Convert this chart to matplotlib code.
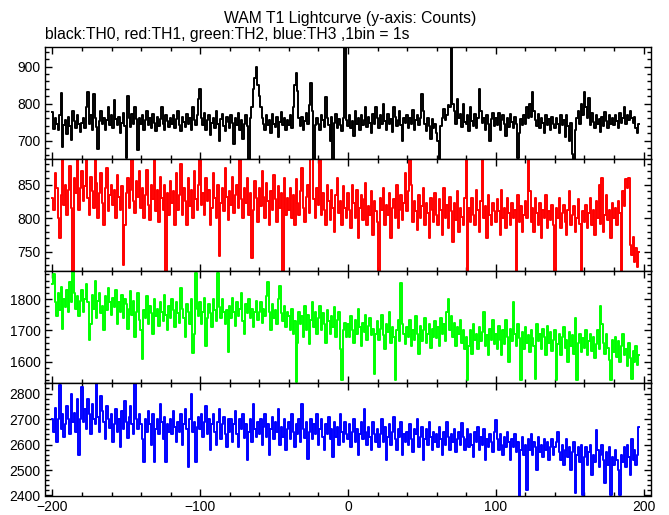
import numpy as np
import matplotlib
matplotlib.use("Agg")
import matplotlib.pyplot as plt
from matplotlib.ticker import MultipleLocator

plt.rcParams["font.family"] = ["Liberation Sans", "DejaVu Sans"]

# tempo (s), 1 bin = 1 s
t_inicio = -200

# TH0 (preto)
th0 = [
    778, 732, 760, 745, 728, 770, 830, 684, 742, 755, 718, 765, 740, 702, 780, 752, 735, 768, 745, 722,
    748, 760, 735, 790, 832, 745, 770, 728, 825, 760, 738, 677, 752, 780, 745, 762, 730, 755, 790, 742,
    770, 735, 810, 758, 742, 765, 720, 748, 775, 740, 653, 820, 760, 738, 772, 745, 790, 758, 676, 762,
    745, 768, 730, 755, 780, 742, 760, 735, 772, 748, 725, 765, 740, 758, 790, 745, 730, 770, 752, 738,
    760, 745, 770, 735, 758, 780, 742, 725, 765, 750, 738, 772, 745, 760, 728, 790, 755, 742, 768, 812,
    839, 760, 742, 775, 730, 755, 770, 715, 748, 762, 735, 780, 745, 700, 758, 772, 740, 725, 765, 750,
    735, 770, 748, 690, 760, 742, 775, 728, 755, 705, 745, 768, 740, 650, 760, 790, 840, 870, 900, 850,
    820, 790, 760, 745, 730, 768, 742, 755, 720, 772, 745, 738, 765, 710, 750, 778, 742, 760, 730, 755,
    742, 770, 735, 790, 850, 882, 835, 760, 740, 765, 728, 752, 775, 745, 795, 855, 780, 650, 742, 760,
    745, 730, 770, 755, 738, 817, 760, 742, 700, 765, 650, 748, 772, 735, 758, 742, 725, 760, 960, 755,
    740, 768, 735, 752, 712, 780, 745, 760, 728, 770, 742, 755, 790, 738, 765, 748, 720, 772, 745, 790,
    760, 735, 768, 745, 800, 752, 730, 772, 745, 758, 722, 790, 765, 740, 755, 780, 742, 700, 760, 748,
    770, 735, 760, 745, 782, 728, 755, 768, 742, 762, 826, 780, 745, 725, 760, 740, 705, 758, 735, 745,
    720, 700, 650, 740, 760, 785, 755, 770, 795, 790, 960, 800, 780, 745, 812, 760, 772, 738, 800, 750,
    745, 768, 725, 790, 752, 740, 772, 735, 760, 839, 780, 748, 762, 730, 770, 745, 700, 758, 775, 740,
    760, 742, 775, 728, 755, 768, 745, 712, 760, 738, 772, 750, 735, 765, 745, 652, 720, 758, 742, 770,
    745, 790, 760, 800, 765, 831, 780, 755, 740, 772, 735, 760, 748, 720, 770, 742, 758, 730, 765, 745,
    735, 762, 745, 720, 770, 742, 755, 710, 768, 740, 700, 748, 665, 648, 730, 762, 780, 745, 800, 770,
    831, 790, 760, 815, 742, 775, 750, 735, 768, 745, 758, 722, 765, 740, 778, 752, 735, 770, 745, 760,
    742, 768, 752, 735, 775, 748, 760, 790, 745, 770, 755, 780, 760, 748, 765, 735, 720, 745,
]

# TH1 (vermelho)
th1 = [
    830, 812, 868, 845, 800, 771, 835, 890, 820, 850, 805, 842, 878, 815, 722, 860, 838, 890, 812, 845,
    870, 825, 848, 890, 830, 805, 862, 840, 815, 890, 852, 800, 838, 868, 822, 790, 845, 875, 810, 835,
    850, 820, 842, 800, 865, 832, 812, 848, 731, 790, 838, 860, 815, 842, 890, 825, 808, 855, 832, 870,
    815, 845, 800, 835, 872, 820, 798, 850, 828, 890, 810, 842, 795, 862, 830, 812, 850, 722, 838, 805,
    855, 822, 840, 790, 868, 812, 835, 880, 805, 845, 825, 790, 860, 818, 842, 800, 870, 828, 812, 850,
    890, 820, 838, 805, 860, 825, 842, 790, 815, 868, 830, 800, 850, 743, 822, 845, 810, 875, 832, 798,
    840, 820, 862, 808, 835, 850, 815, 890, 828, 800, 845, 822, 860, 805, 838, 741, 812, 855, 830, 795,
    845, 818, 870, 832, 800, 852, 825, 790, 840, 812, 865, 828, 795, 848, 815, 838, 722, 860, 805, 830,
    812, 845, 800, 835, 790, 858, 822, 805, 840, 875, 815, 795, 832, 850, 808, 888, 890, 828, 800, 845,
    820, 890, 805, 838, 812, 790, 850, 826, 798, 842, 815, 780, 835, 860, 808, 825, 790, 848, 815, 800,
    838, 812, 785, 850, 822, 800, 842, 770, 815, 835, 798, 828, 852, 790, 818, 805, 840, 775, 825, 810,
    795, 722, 830, 812, 845, 790, 820, 805, 838, 770, 815, 828, 800, 850, 785, 812, 835, 798, 822, 868,
    810, 840, 888, 850, 795, 825, 810, 782, 835, 800, 818, 845, 790, 822, 808, 770, 830, 812, 795, 838,
    805, 790, 828, 812, 775, 845, 800, 820, 785, 832, 810, 765, 822, 798, 840, 780, 815, 802, 790, 830,
    888, 722, 815, 795, 830, 805, 790, 842, 812, 780, 825, 888, 800, 818, 770, 835, 805, 790, 822, 810,
    795, 828, 810, 775, 842, 800, 815, 785, 830, 808, 790, 822, 800, 812, 722, 835, 795, 818, 780, 805,
    825, 800, 888, 840, 795, 815, 780, 830, 808, 790, 822, 770, 812, 800, 835, 785, 810, 798, 820, 790,
    722, 815, 800, 830, 785, 808, 820, 795, 775, 812, 840, 790, 805, 818, 780, 800, 828, 792, 722, 810,
    795, 820, 785, 808, 830, 790, 812, 775, 825, 800, 850, 792, 860, 780, 805, 835, 798, 812, 770, 822,
    800, 815, 790, 825, 808, 722, 840, 818, 858, 845, 860, 760, 745, 772, 735, 755, 728, 750,
]

# TH2 (verde)
th2 = [
    1850, 1880, 1790, 1745, 1820, 1765, 1840, 1705, 1800, 1775, 1830, 1760, 1855, 1790, 1890, 1820, 1770, 1810, 1745, 1795,
    1830, 1760, 1800, 1850, 1790, 1668, 1720, 1815, 1770, 1860, 1740, 1795, 1820, 1755, 1780, 1700, 1810, 1765, 1835, 1790,
    1750, 1805, 1775, 1830, 1720, 1790, 1760, 1815, 1740, 1800, 1785, 1705, 1770, 1825, 1750, 1795, 1680, 1760, 1820, 1735,
    1700, 1608, 1765, 1740, 1810, 1720, 1780, 1755, 1690, 1800, 1745, 1770, 1715, 1790, 1760, 1730, 1815, 1750, 1700, 1780,
    1740, 1800, 1765, 1710, 1790, 1755, 1725, 1835, 1770, 1740, 1680, 1785, 1760, 1720, 1800, 1626, 1690, 1885, 1770, 1745,
    1790, 1720, 1760, 1805, 1650, 1740, 1785, 1755, 1710, 1800, 1765, 1730, 1885, 1775, 1740, 1800, 1760, 1720, 1765, 1631,
    1780, 1740, 1805, 1760, 1715, 1790, 1745, 1770, 1820, 1730, 1690, 1785, 1755, 1800, 1740, 1770, 1710, 1760, 1795, 1735,
    1760, 1790, 1725, 1770, 1745, 1810, 1854, 1760, 1700, 1785, 1740, 1765, 1720, 1800, 1843, 1755, 1730, 1780, 1710, 1760,
    1745, 1700, 1770, 1690, 1730, 1534, 1660, 1760, 1720, 1745, 1680, 1780, 1700, 1750, 1655, 1735, 1790, 1710, 1760, 1690,
    1740, 1780, 1700, 1755, 1720, 1660, 1765, 1730, 1690, 1745, 1710, 1775, 1680, 1735, 1760, 1640, 1540, 1700, 1725, 1680,
    1720, 1680, 1745, 1700, 1660, 1735, 1690, 1770, 1710, 1650, 1725, 1695, 1750, 1670, 1715, 1740, 1685, 1705, 1560, 1690,
    1730, 1670, 1705, 1750, 1685, 1640, 1720, 1695, 1760, 1660, 1710, 1680, 1540, 1700, 1735, 1665, 1852, 1720, 1690, 1655,
    1710, 1680, 1735, 1650, 1700, 1670, 1745, 1690, 1625, 1715, 1665, 1700, 1740, 1660, 1690, 1720, 1645, 1705, 1680, 1730,
    1675, 1710, 1650, 1740, 1690, 1720, 1665, 1760, 1800, 1700, 1745, 1680, 1725, 1650, 1710, 1690, 1735, 1660, 1700, 1640,
    1680, 1540, 1650, 1700, 1625, 1720, 1670, 1690, 1640, 1710, 1665, 1695, 1760, 1650, 1685, 1620, 1705, 1670, 1735, 1655,
    1690, 1640, 1715, 1670, 1620, 1700, 1655, 1735, 1680, 1600, 1705, 1665, 1792, 1690, 1650, 1720, 1675, 1540, 1695, 1640,
    1710, 1660, 1685, 1630, 1700, 1675, 1650, 1545, 1720, 1665, 1690, 1640, 1705, 1680, 1620, 1715, 1660, 1695, 1635, 1670,
    1700, 1540, 1655, 1690, 1620, 1680, 1710, 1645, 1670, 1600, 1695, 1650, 1685, 1625, 1740, 1540, 1660, 1690, 1630, 1675,
    1645, 1700, 1620, 1665, 1690, 1635, 1680, 1610, 1655, 1700, 1640, 1778, 1720, 1660, 1625, 1690, 1645, 1605, 1540, 1670,
    1630, 1680, 1615, 1665, 1600, 1650, 1690, 1620, 1640, 1585, 1660, 1610, 1545, 1635, 1600, 1650, 1590, 1620,
]

# TH3 (azul)
th3 = [
    2700, 2650, 2745, 2610, 2700, 2832, 2660, 2720, 2630, 2680, 2750, 2700, 2640, 2800, 2690, 2725, 2650, 2780, 2559, 2700,
    2826, 2690, 2740, 2660, 2780, 2720, 2640, 2760, 2700, 2680, 2840, 2710, 2650, 2790, 2730, 2690, 2620, 2750, 2700, 2665,
    2720, 2610, 2680, 2740, 2650, 2700, 2590, 2730, 2660, 2770, 2690, 2625, 2710, 2750, 2680, 2640, 2840, 2700, 2660, 2720,
    2680, 2620, 2533, 2700, 2650, 2730, 2680, 2600, 2720, 2533, 2660, 2700, 2640, 2760, 2690, 2620, 2710, 2533, 2680, 2650,
    2700, 2640, 2730, 2670, 2610, 2690, 2650, 2720, 2600, 2680, 2740, 2660, 2510, 2700, 2797, 2650, 2690, 2530, 2670, 2710,
    2660, 2720, 2630, 2690, 2750, 2640, 2700, 2580, 2680, 2720, 2650, 2600, 2690, 2740, 2620, 2680, 2710, 2640, 2590, 2700,
    2650, 2700, 2610, 2680, 2730, 2640, 2590, 2700, 2660, 2720, 2625, 2680, 2540, 2650, 2700, 2610, 2760, 2660, 2630, 2690,
    2640, 2700, 2600, 2670, 2720, 2630, 2680, 2560, 2660, 2710, 2620, 2690, 2650, 2740, 2600, 2670, 2630, 2700, 2580, 2660,
    2690, 2620, 2720, 2650, 2590, 2680, 2640, 2700, 2610, 2760, 2660, 2625, 2690, 2545, 2650, 2700, 2620, 2680, 2640, 2720,
    2600, 2660, 2700, 2630, 2580, 2680, 2640, 2710, 2620, 2660, 2550, 2690, 2630, 2670, 2600, 2720, 2650, 2610, 2690, 2640,
    2620, 2680, 2590, 2650, 2700, 2610, 2660, 2560, 2640, 2690, 2620, 2740, 2650, 2600, 2670, 2630, 2580, 2690, 2640, 2610,
    2660, 2590, 2640, 2700, 2610, 2670, 2540, 2630, 2680, 2600, 2650, 2710, 2620, 2580, 2660, 2630, 2690, 2560, 2640, 2610,
    2650, 2600, 2680, 2620, 2570, 2660, 2640, 2700, 2590, 2630, 2670, 2540, 2620, 2660, 2600, 2690, 2630, 2580, 2650, 2610,
    2640, 2590, 2670, 2620, 2560, 2650, 2600, 2690, 2630, 2580, 2640, 2610, 2660, 2570, 2620, 2650, 2600, 2683, 2630, 2580,
    2620, 2660, 2590, 2640, 2600, 2550, 2650, 2610, 2670, 2580, 2630, 2600, 2660, 2540, 2620, 2590, 2640, 2610, 2570, 2650,
    2696, 2620, 2580, 2640, 2600, 2560, 2630, 2590, 2650, 2610, 2540, 2620, 2590, 2640, 2570, 2610, 2396, 2580, 2630, 2560,
    2600, 2420, 2620, 2580, 2640, 2560, 2610, 2590, 2500, 2630, 2570, 2600, 2550, 2620, 2580, 2610, 2540, 2590, 2620, 2560,
    2590, 2610, 2650, 2570, 2540, 2600, 2520, 2580, 2620, 2550, 2590, 2500, 2570, 2610, 2410, 2560, 2590, 2530, 2600, 2400,
    2550, 2590, 2520, 2570, 2600, 2480, 2560, 2530, 2657, 2580, 2510, 2560, 2600, 2540, 2450, 2570, 2520, 2590, 2400, 2550,
    2520, 2580, 2540, 2500, 2400, 2560, 2530, 2590, 2510, 2600, 2550, 2480, 2620, 2540, 2580, 2520, 2560, 2670,
]

series = [th0, th1, th2, th3]
cores = ["black", "#ff0000", "#00ff00", "#0000ff"]
limites_y = [(650, 953), (721, 888), (1530, 1890), (2400, 2840)]
ticks_y = [[700, 800, 900], [750, 800, 850], [1600, 1700, 1800], [2400, 2500, 2600, 2700, 2800]]
minor_y = [20, 10, 20, 20]

fig = plt.figure(figsize=(6.69, 5.15), dpi=100)

esq, dir_ = 45 / 669, 651 / 669
topo, base = 47 / 515, 495.5 / 515
altura = (base - topo) / 4

for i, (y, cor) in enumerate(zip(series, cores)):
    assert len(y) == 398, (i, len(y))
    x = np.arange(t_inicio, t_inicio + len(y))
    ax = fig.add_axes([esq, 1 - topo - (i + 1) * altura, dir_ - esq, altura])
    ax.step(x, y, where="mid", color=cor, lw=1.4)
    ax.set_xlim(-205, 205)
    ax.set_ylim(*limites_y[i])
    ax.set_yticks(ticks_y[i])
    ax.yaxis.set_minor_locator(MultipleLocator(minor_y[i]))
    ax.xaxis.set_major_locator(MultipleLocator(100))
    ax.xaxis.set_minor_locator(MultipleLocator(20))
    ax.tick_params(which="both", direction="in", top=True, right=True, labelsize=10, pad=3)
    ax.tick_params(which="major", length=5, width=1)
    ax.tick_params(which="minor", length=2.8, width=1)
    for sp in ax.spines.values():
        sp.set_linewidth(1.0)
    if i < 3:
        ax.tick_params(labelbottom=False)

fig.text(350 / 669, 1 - 18 / 515, "WAM T1 Lightcurve (y-axis: Counts)", ha="center", va="center", fontsize=11.3)
fig.text(45 / 669, 1 - 35 / 515, "black:TH0, red:TH1, green:TH2, blue:TH3 ,1bin = 1s", ha="left", va="center", fontsize=11.3)

fig.savefig("out.png", dpi=100)
